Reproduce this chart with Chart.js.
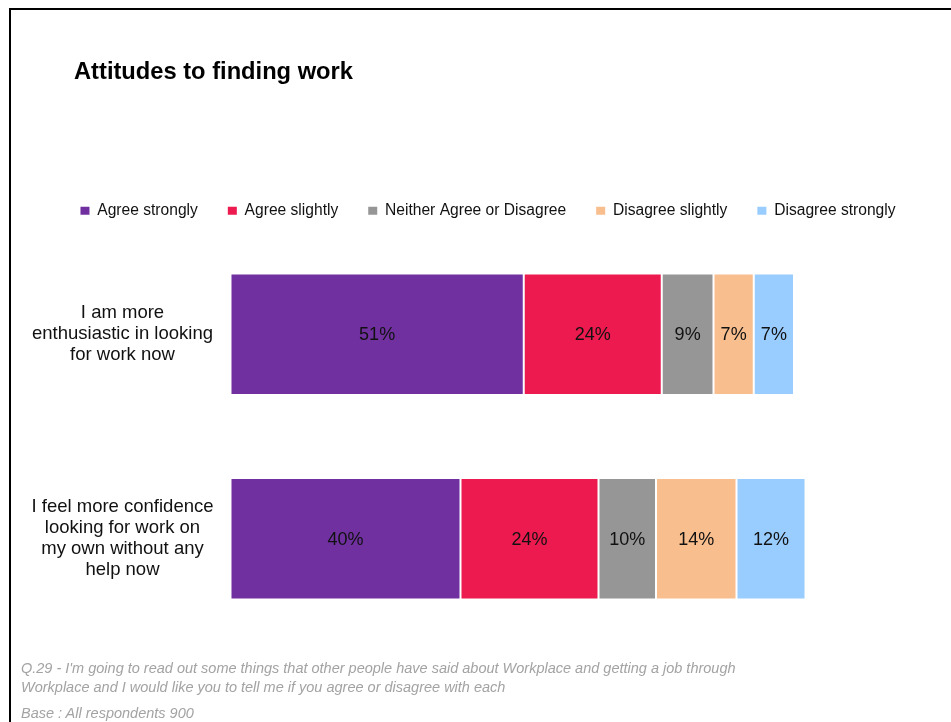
<!DOCTYPE html>
<html>
<head>
<meta charset="utf-8">
<script src="https://cdn.jsdelivr.net/npm/chart.js@4"></script>
<style>
  html, body { margin: 0; padding: 0; background: #ffffff; }
  body { width: 951px; height: 722px; position: relative; overflow: hidden; font-family: "Liberation Sans", Arial, sans-serif; }
  #frame { position: absolute; left: 9px; top: 8px; right: -4px; bottom: -4px; border-left: 2px solid #000; border-top: 2px solid #000; }
  #chartWrap { position: absolute; left: 0; top: 0; width: 951px; height: 722px; }
  #title { position: absolute; left: 74px; top: 59px; font-size: 23.7px; line-height: 24px; font-weight: bold; color: #000; white-space: nowrap; }
  .note { position: absolute; left: 21px; font-size: 14.5px; line-height: 16px; font-style: italic; color: #a3a3a3; white-space: nowrap; }
</style>
</head>
<body>
<div id="frame"></div>
<div id="chartWrap"><canvas id="chart" width="951" height="722"></canvas></div>
<div id="title">Attitudes to finding work</div>
<div class="note" style="top:660px">Q.29 - I'm going to read out some things that other people have said about Workplace and getting a job through</div>
<div class="note" style="top:679px">Workplace and I would like you to tell me if you agree or disagree with each</div>
<div class="note" style="top:705px">Base : All respondents 900</div>
<script>
// Statements (each split into the lines shown on the axis)
const statements = [
  ['I am more', 'enthusiastic in looking', 'for work now'],
  ['I feel more confidence', 'looking for work on', 'my own without any', 'help now']
];

// Response scale and colours
const responses = ['Agree strongly', 'Agree slightly', 'Neither Agree or Disagree', 'Disagree slightly', 'Disagree strongly'];
const responseColors = ['#7030A0', '#EC1A4F', '#969696', '#F9BE8E', '#99CCFF'];

// Percentages per response, one value per statement
const agreeStrongly    = [51, 40];
const agreeSlightly    = [24, 24];
const neither          = [9, 10];
const disagreeSlightly = [7, 14];
const disagreeStrongly = [7, 12];

const seriesValues = [agreeStrongly, agreeSlightly, neither, disagreeSlightly, disagreeStrongly];

// Writes each segment's percentage in the middle of its bar
const segmentLabels = {
  id: 'segmentLabels',
  afterDatasetsDraw(chart) {
    const ctx = chart.ctx;
    ctx.save();
    ctx.font = '18px "Liberation Sans", Arial, sans-serif';
    ctx.fillStyle = '#111111';
    ctx.textAlign = 'center';
    ctx.textBaseline = 'middle';
    chart.data.datasets.forEach((ds, di) => {
      const meta = chart.getDatasetMeta(di);
      meta.data.forEach((bar, i) => {
        const v = ds.data[i];
        if (v == null) return;
        const cx = (bar.x + bar.base) / 2;
        ctx.fillText(v + '%', cx, bar.y + 1);
      });
    });
    ctx.restore();
  }
};

new Chart(document.getElementById('chart'), {
  type: 'bar',
  data: {
    labels: statements,
    datasets: responses.map((name, k) => ({
      label: name,
      data: seriesValues[k],
      backgroundColor: responseColors[k],
      borderColor: 'rgba(255,255,255,0.25)',
      borderWidth: 1,
      borderSkipped: false,
      categoryPercentage: 1,
      barPercentage: 0.594
    }))
  },
  options: {
    indexAxis: 'y',
    responsive: false,
    animation: false,
    layout: { padding: { top: 173, left: 30, right: 5, bottom: 81 } },
    plugins: {
      legend: {
        position: 'top',
        align: 'center',
        labels: {
          boxWidth: 9,
          boxHeight: 8,
          padding: 30,
          color: '#111111',
          font: { family: '"Liberation Sans", Arial, sans-serif', size: 15.6 },
          generateLabels(chart) {
            return Chart.defaults.plugins.legend.labels.generateLabels(chart).map(item => {
              item.lineWidth = 0;
              return item;
            });
          }
        }
      },
      tooltip: { enabled: false }
    },
    scales: {
      x: {
        stacked: true,
        position: 'top',
        min: 0,
        max: 100,
        display: true,
        grid: { display: false },
        border: { display: false },
        ticks: { display: false },
        afterFit(scale) { scale.height = 3.4; }
      },
      y: {
        stacked: true,
        grid: { display: false },
        border: { display: false },
        ticks: {
          crossAlign: 'center',
          padding: 9,
          color: '#111111',
          font: { family: '"Liberation Sans", Arial, sans-serif', size: 18.5, lineHeight: 1.135 }
        },
        afterFit(scale) { scale.width = 200.5; }
      },
      spacer: {
        type: 'linear',
        position: 'right',
        display: true,
        grid: { display: false },
        border: { display: false },
        ticks: { display: false },
        afterFit(scale) { scale.width = 140.5; }
      }
    }
  },
  plugins: [segmentLabels]
});
</script>
</body>
</html>
